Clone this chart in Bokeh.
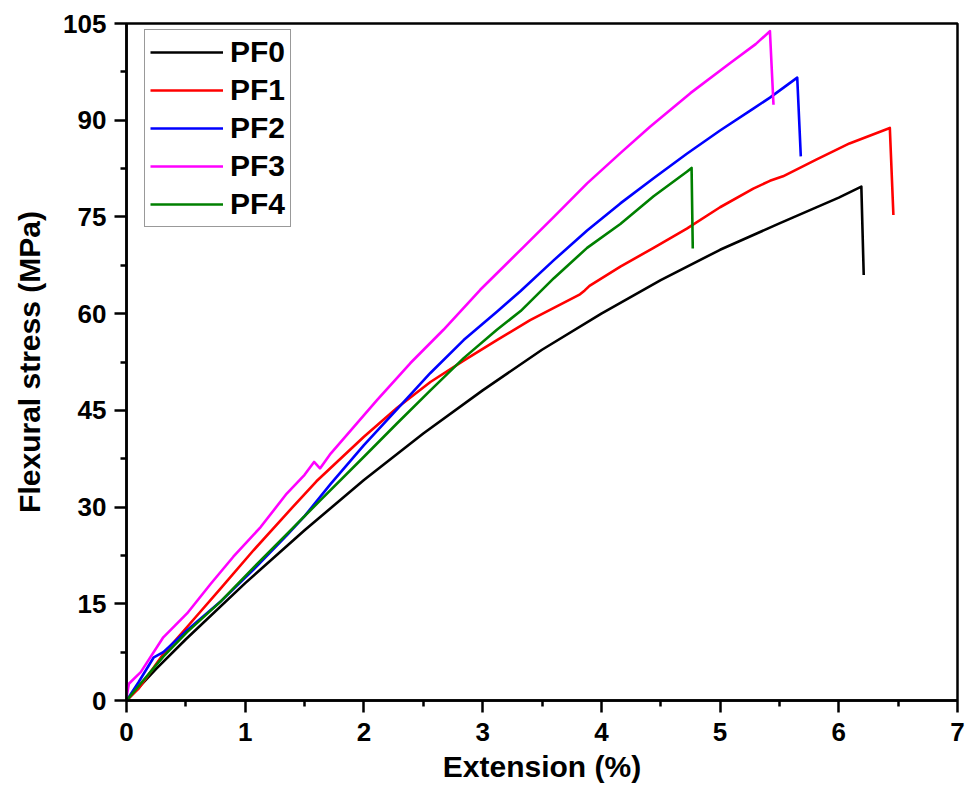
from bokeh.plotting import figure
from bokeh.models import Range1d, FixedTicker, Legend, LegendItem
from bokeh.embed import file_html
from bokeh.resources import INLINE

# ---- data ----
pf0_x = [0, 0.25, 0.5, 1.0, 1.5, 2.0, 2.5, 3.0, 3.5, 4.0, 4.5, 5.0, 5.5, 6.0, 6.19, 6.21]
pf0_y = [0, 4.9, 9.5, 18.2, 26.4, 34.2, 41.4, 48.1, 54.4, 60.0, 65.2, 69.9, 74.0, 78.0, 79.7, 66.0]

pf1_x = [0, 0.1, 0.31, 0.51, 0.79, 1.07, 1.35, 1.6, 2.0, 2.28, 2.56, 2.84, 3.12, 3.4, 3.82,
         3.86, 3.9, 4.16, 4.44, 4.72, 5.0, 5.28, 5.42, 5.53, 5.81, 6.09, 6.43, 6.46]
pf1_y = [0, 1.8, 7.2, 11.4, 17.3, 23.3, 29.0, 34.0, 40.9, 45.4, 49.4, 52.7, 55.9, 59.0, 63.0,
         63.6, 64.3, 67.3, 70.2, 73.2, 76.5, 79.4, 80.6, 81.3, 83.9, 86.4, 88.8, 75.3]

pf2_x = [0, 0.1, 0.23, 0.31, 0.51, 0.79, 1.07, 1.35, 1.5, 1.72, 2.0, 2.28, 2.56, 2.84, 3.12,
         3.32, 3.6, 3.88, 4.16, 4.44, 4.72, 5.0, 5.28, 5.42, 5.65, 5.68]
pf2_y = [0, 2.8, 6.7, 7.5, 10.9, 15.3, 20.3, 25.6, 28.6, 33.6, 39.6, 45.2, 50.8, 55.9, 60.3,
         63.5, 68.3, 72.9, 77.1, 81.0, 84.8, 88.4, 91.8, 93.5, 96.6, 84.4]

pf3_x = [0, 0.02, 0.12, 0.31, 0.51, 0.71, 0.9, 1.13, 1.35, 1.5, 1.58, 1.63, 1.72, 2.11, 2.39,
         2.67, 2.98, 3.32, 3.6, 3.88, 4.16, 4.41, 4.75, 5.08, 5.3, 5.42, 5.45]
pf3_y = [0.5, 2.6, 4.4, 9.8, 13.5, 18.1, 22.3, 26.9, 32.1, 35.0, 37.0, 36.0, 38.3, 46.6, 52.3,
         57.5, 63.7, 69.9, 75.0, 80.2, 84.9, 89.0, 94.2, 98.8, 101.8, 103.8, 92.4]

pf4_x = [0, 0.1, 0.31, 0.51, 0.79, 1.07, 1.35, 1.63, 2.0, 2.28, 2.56, 2.84, 3.12, 3.32, 3.6,
         3.88, 4.16, 4.44, 4.72, 4.76, 4.77]
pf4_y = [0, 2.2, 6.8, 10.6, 15.3, 20.6, 25.8, 31.0, 37.8, 43.0, 48.1, 53.1, 57.5, 60.4, 65.5,
         70.2, 73.9, 78.2, 82.0, 82.6, 70.1]

series_names = ["PF0", "PF1", "PF2", "PF3", "PF4"]
series_colors = ["#000000", "#ff0000", "#0000ff", "#ff00ff", "#008000"]

x_ticks = [0, 1, 2, 3, 4, 5, 6, 7]
x_minor = [0.5, 1.5, 2.5, 3.5, 4.5, 5.5, 6.5]
y_ticks = [0, 15, 30, 45, 60, 75, 90, 105]
y_minor = [7.5, 22.5, 37.5, 52.5, 67.5, 82.5, 97.5]

FONT = "Liberation Sans"

p = figure(width=974, height=794, output_backend="svg", toolbar_location=None,
           x_range=Range1d(0, 7), y_range=Range1d(0, 105),
           min_border_left=126, min_border_right=17, min_border_top=23, min_border_bottom=94)
p.xgrid.visible = False
p.ygrid.visible = False
p.outline_line_color = "black"
p.outline_line_width = 2.5
p.background_fill_color = "white"
p.border_fill_color = "white"

data = [(pf0_x, pf0_y), (pf1_x, pf1_y), (pf2_x, pf2_y), (pf3_x, pf3_y), (pf4_x, pf4_y)]
items = []
for (xs, ys), name, col in zip(data, series_names, series_colors):
    r = p.line(xs, ys, line_color=col, line_width=2.6, line_join="round")
    items.append(LegendItem(label=name, renderers=[r]))

p.xaxis.ticker = FixedTicker(ticks=x_ticks, minor_ticks=x_minor)
p.yaxis.ticker = FixedTicker(ticks=y_ticks, minor_ticks=y_minor)

for ax in (p.xaxis[0], p.yaxis[0]):
    ax.axis_line_width = 2.5
    ax.major_tick_line_width = 2.5
    ax.minor_tick_line_width = 2.5
    ax.major_tick_in = 0
    ax.major_tick_out = 12
    ax.minor_tick_in = 0
    ax.minor_tick_out = 6
    ax.major_label_text_font = FONT
    ax.major_label_text_font_style = "bold"
    ax.major_label_text_font_size = "26px"
    ax.major_label_text_color = "black"
    ax.axis_label_text_font = FONT
    ax.axis_label_text_font_style = "bold"
    ax.axis_label_text_font_size = "30px"
    ax.axis_label_text_color = "black"

p.xaxis.axis_label = "Extension (%)"
p.yaxis.axis_label = "Flexural stress (MPa)"
p.xaxis.major_label_standoff = 10
p.yaxis.major_label_standoff = 8
p.xaxis.axis_label_standoff = 6
p.yaxis.axis_label_standoff = 14

legend = Legend(items=items, location=(18, 473))
legend.label_text_font = FONT
legend.label_text_font_style = "bold"
legend.label_text_font_size = "30px"
legend.label_text_color = "black"
legend.glyph_width = 73
legend.glyph_height = 30
legend.label_height = 30
legend.label_standoff = 7
legend.spacing = 4
legend.padding = 5
legend.margin = 0
legend.border_line_color = "#333333"
legend.border_line_width = 1.5
legend.background_fill_alpha = 1.0
p.add_layout(legend)

open("out.html", "w").write(file_html(p, INLINE))
